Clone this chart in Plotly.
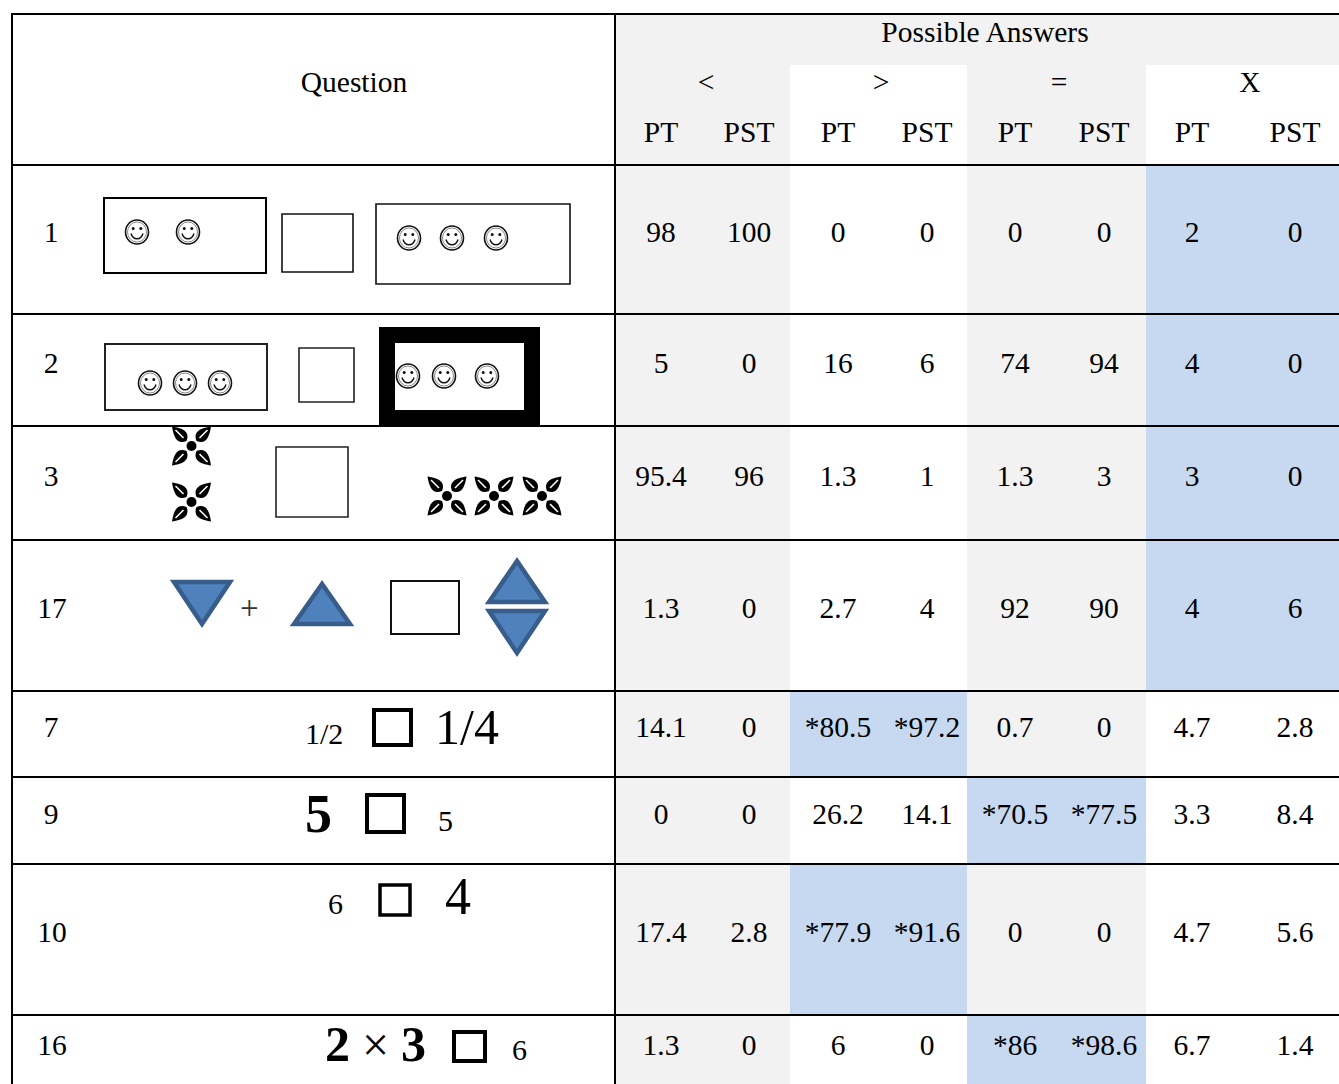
import plotly.graph_objects as go

# ---- data ----
question_numbers = ["1", "2", "3", "17", "7", "9", "10", "16"]
answer_groups = ["<", ">", "=", "X"]
sub_headers = ["PT", "PST", "PT", "PST", "PT", "PST", "PT", "PST"]
row_1 = ["98", "100", "0", "0", "0", "0", "2", "0"]
row_2 = ["5", "0", "16", "6", "74", "94", "4", "0"]
row_3 = ["95.4", "96", "1.3", "1", "1.3", "3", "3", "0"]
row_17 = ["1.3", "0", "2.7", "4", "92", "90", "4", "6"]
row_7 = ["14.1", "0", "*80.5", "*97.2", "0.7", "0", "4.7", "2.8"]
row_9 = ["0", "0", "26.2", "14.1", "*70.5", "*77.5", "3.3", "8.4"]
row_10 = ["17.4", "2.8", "*77.9", "*91.6", "0", "0", "4.7", "5.6"]
row_16 = ["1.3", "0", "6", "0", "*86", "*98.6", "6.7", "1.4"]
rows = [row_1, row_2, row_3, row_17, row_7, row_9, row_10, row_16]
highlight_group = [3, 3, 3, 3, 1, 2, 1, 2]

# ---- layout constants ----
W, H = 1339, 1084
TEXT_DY = 3
FONT = "Liberation Serif"
SZ = 29.5
GRAY, BLUE = "#F2F2F2", "#C6D9F1"
row_edges = [165, 314, 426, 540, 691, 777, 864, 1015, 1084]
row_text_y = [232, 363, 476, 608, 727, 814, 932, 1045]
num_x = [51, 51, 51, 52, 51, 51, 52, 52]
col_x = [661, 749, 838, 927, 1015, 1104, 1192, 1295]
group_x = [706, 881, 1059, 1250]
group_edges = [616, 790, 967, 1146, 1339]

shapes = []


def rect(x0, y0, x1, y1, fill=None, line=None, lw=2, layer="above"):
    shapes.append(dict(type="rect", x0=x0, y0=y0, x1=x1, y1=y1, xref="x", yref="y", layer=layer,
                       fillcolor=fill or "rgba(0,0,0,0)",
                       line=dict(color=line or "rgba(0,0,0,0)", width=lw if line else 0)))


def path(d, fill=None, line=None, lw=1.5):
    shapes.append(dict(type="path", path=d, xref="x", yref="y", layer="above",
                       fillcolor=fill or "rgba(0,0,0,0)",
                       line=dict(color=line or "rgba(0,0,0,0)", width=lw if line else 0)))


def circle(cx, cy, rx, ry, fill=None, line=None, lw=1.5):
    shapes.append(dict(type="circle", x0=cx - rx, x1=cx + rx, y0=cy - ry, y1=cy + ry, xref="x", yref="y",
                       layer="above", fillcolor=fill or "rgba(0,0,0,0)",
                       line=dict(color=line or "rgba(0,0,0,0)", width=lw if line else 0)))


def smiley(cx, cy):
    circle(cx, cy, 11.5, 12, line="#111", lw=1.6)
    circle(cx, cy, 9.5, 10, line="#555", lw=0.7)
    circle(cx - 3.8, cy - 3.5, 1.5, 1.5, fill="#111")
    circle(cx + 3.8, cy - 3.5, 1.5, 1.5, fill="#111")
    path(f"M {cx-6},{cy+1.5} C {cx-4},{cy+8.5} {cx+4},{cy+8.5} {cx+6},{cy+1.5}", line="#111", lw=1.4)


def flower(cx, cy):
    circle(cx, cy, 5, 5, fill="#000")
    for sx in (-1, 1):
        for sy in (-1, 1):
            tx, ty = cx + sx * 19.5, cy + sy * 19.5
            bx, by = cx + sx * 5, cy + sy * 5
            path(f"M {bx},{by} C {cx+sx*1},{cy+sy*15} {cx+sx*10},{cy+sy*18} {tx},{ty} "
                 f"C {cx+sx*18},{cy+sy*10} {cx+sx*15},{cy+sy*1} {bx},{by} Z", fill="#000")
            path(f"M {cx+sx*8},{cy+sy*8} L {cx+sx*16},{cy+sy*16}", line="#fff", lw=1.6)


def tri(pts):
    d = "M " + " L ".join(f"{x},{y}" for x, y in pts) + " Z"
    path(d, fill="#4F81BD", line="#385D8A", lw=4.5)


# backgrounds
rect(616, 15, 1339, 65, fill=GRAY, layer="below")
for g in (0, 2):
    rect(group_edges[g], 65, group_edges[g + 1], 165, fill=GRAY, layer="below")
for i in range(len(rows)):
    for g in range(4):
        color = BLUE if highlight_group[i] == g else (GRAY if g in (0, 2) else None)
        if color:
            rect(group_edges[g], row_edges[i], group_edges[g + 1], row_edges[i + 1], fill=color, layer="below")

# grid
for y in [14] + row_edges[:-1]:
    shapes.append(dict(type="line", x0=11, x1=1339, y0=y, y1=y, xref="x", yref="y", layer="above",
                       line=dict(color="#000", width=2)))
for x in (12, 615):
    shapes.append(dict(type="line", x0=x, x1=x, y0=14, y1=1084, xref="x", yref="y", layer="above",
                       line=dict(color="#000", width=2)))

# question 1
rect(104, 198, 266, 273, line="#000", lw=2)
rect(282, 214, 353, 272, line="#111", lw=1.6)
rect(376, 204, 570, 284, line="#111", lw=1.6)
for x, y in [(137, 232), (188, 232), (409, 238), (452, 238), (496, 238)]:
    smiley(x, y)
# question 2
rect(105, 344, 267, 410, line="#222", lw=2)
rect(299, 348, 354, 402, line="#222", lw=1.6)
rect(379, 327, 540, 426, fill="#000")
rect(395, 343, 524, 410, fill="#fff")
for x, y in [(150, 383), (185, 383), (220, 383), (408, 376), (444, 376), (487, 376)]:
    smiley(x, y)
# question 3
for x, y in [(191.5, 446), (191.5, 502), (447, 496), (494, 496), (542, 496)]:
    flower(x, y)
rect(276, 447, 348, 517, line="#222", lw=1.6)
# question 17
tri([(174, 582), (230, 582), (202, 624)])
tri([(322, 584), (294, 624), (350, 624)])
rect(391, 581, 459, 634, line="#111", lw=2)
tri([(517, 561), (489, 602), (545, 602)])
tri([(489, 611), (545, 611), (517, 653)])
# answer boxes
rect(374, 710, 411, 745, line="#000", lw=4)
rect(367, 795, 404, 832, line="#000", lw=4)
rect(380, 885, 410, 915, line="#000", lw=3.5)
rect(454, 1032, 485, 1061, line="#000", lw=4)

# text
notes = []


def note(x, y, text, size=SZ, bold=False, color="#000"):
    notes.append(dict(x=x, y=y, xref="x", yref="y", text=f"<b>{text}</b>" if bold else text,
                      showarrow=False, font=dict(family=FONT, size=size, color=color),
                      xanchor="center", yanchor="middle"))


note(249, 608, "+", size=33, color="#333")
note(324, 733, "1/2", size=30)
note(467, 727, "1/4", size=50)
note(318, 814, "5", size=54, bold=True)
note(445, 820, "5", size=30)
note(335, 903, "6", size=30)
note(458, 896, "4", size=52)
note(337, 1044, "2", size=50, bold=True)
note(375, 1044, "×", size=48)
note(413, 1044, "3", size=50, bold=True)
note(519, 1049, "6", size=30)

fig = go.Figure()
font = dict(family=FONT, size=SZ, color="#000")


def text_trace(xs, ys, labels):
    fig.add_trace(go.Scatter(x=xs, y=[y + TEXT_DY for y in ys], text=labels, mode="text",
                             textposition="middle center", textfont=font, hoverinfo="skip"))


text_trace([354, 985], [82, 32], ["Question", "Possible Answers"])
text_trace(group_x, [82] * 4, answer_groups)
text_trace(col_x, [132] * 8, sub_headers)
text_trace(num_x, row_text_y, question_numbers)
for r, y in zip(rows, row_text_y):
    text_trace(col_x, [y] * 8, r)

fig.update_layout(width=W, height=H, margin=dict(l=0, r=0, t=0, b=0), showlegend=False,
                  paper_bgcolor="#fff", plot_bgcolor="#fff", shapes=shapes, annotations=notes,
                  xaxis=dict(range=[0, W], visible=False, fixedrange=True),
                  yaxis=dict(range=[H, 0], visible=False, fixedrange=True))
fig.write_html("out.html", config={"displayModeBar": False},
               post_script="document.body.style.margin='0';")
